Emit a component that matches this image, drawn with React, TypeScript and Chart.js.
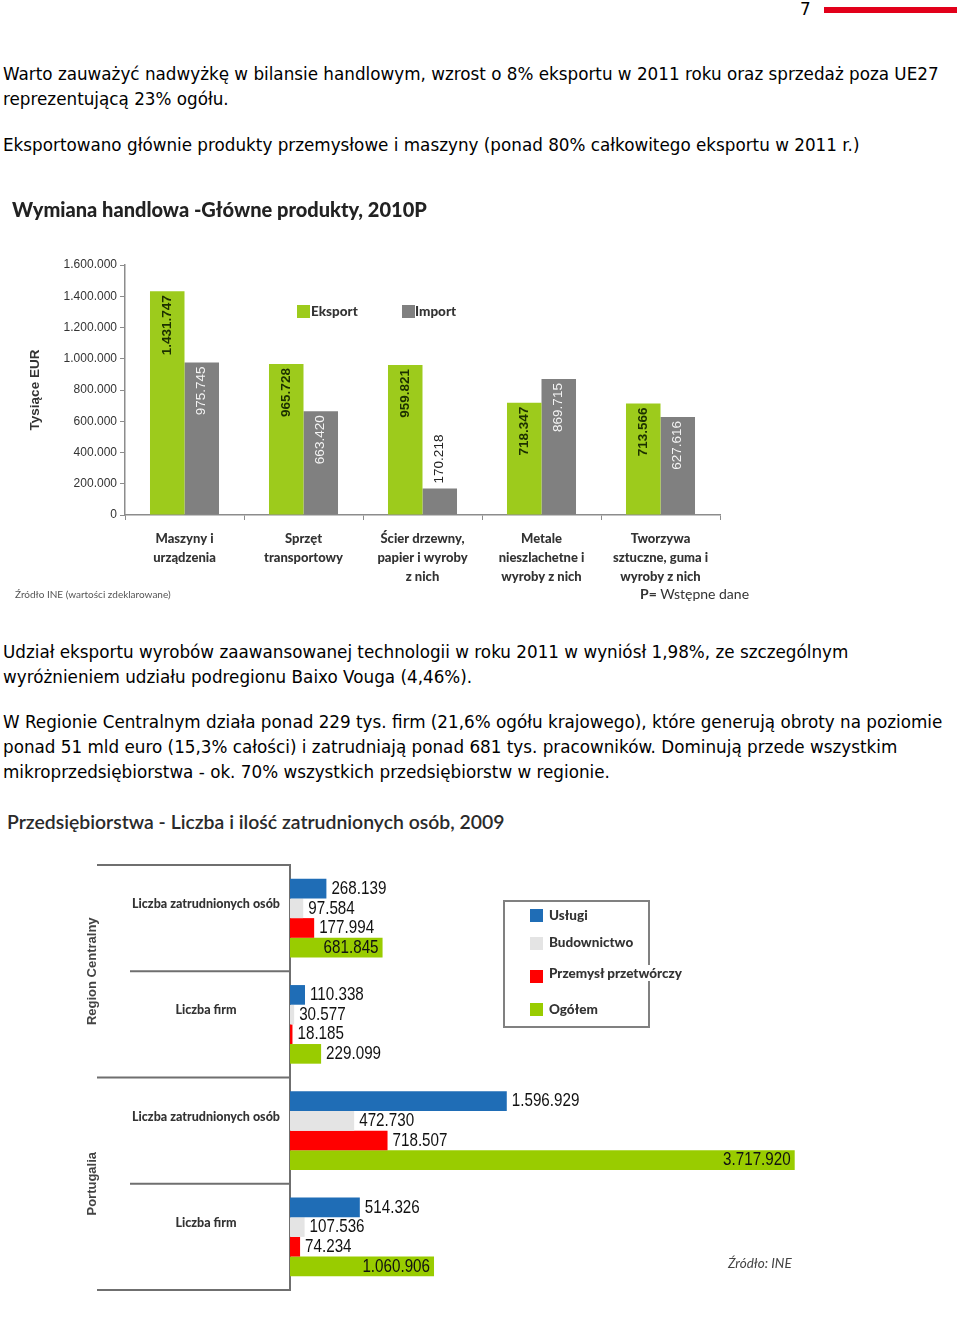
import React, { useEffect, useRef } from 'react';
import { Chart, registerables } from 'chart.js';

Chart.register(...registerables);

// ---------- Chart 1 data ----------
const tradeCategories: string[][] = [
  ['Maszyny i', 'urządzenia'],
  ['Sprzęt', 'transportowy'],
  ['Ścier drzewny,', 'papier i wyroby', 'z nich'],
  ['Metale', 'nieszlachetne i', 'wyroby z nich'],
  ['Tworzywa', 'sztuczne, guma i', 'wyroby z nich'],
];
const exportValues = [1431747, 965728, 959821, 718347, 713566];
const importValues = [975745, 663420, 170218, 869715, 627616];
const tradeSeriesNames = ['Eksport', 'Import'];
const tradeAxisMax = 1600000;
const tradeAxisStep = 200000;

// ---------- Chart 2 data ----------
const firmCategories = [
  'Liczba zatrudnionych osób',
  'Liczba firm',
  'Liczba zatrudnionych osób',
  'Liczba firm',
];
const regionGroups = ['Region Centralny', 'Portugalia'];
const firmSeriesNames = ['Usługi', 'Budownictwo', 'Przemysł przetwórczy', 'Ogółem'];
const uslugiValues = [268139, 110338, 1596929, 514326];
const budownictwoValues = [97584, 30577, 472730, 107536];
const przemyslValues = [177994, 18185, 718507, 74234];
const ogolemValues = [681845, 229099, 3717920, 1060906];
const firmAxisMax = 4000000;

const GREEN = '#9dcb1c';
const GRAY = '#808080';
const BLUE = '#1f6db6';
const LIGHT = '#e4e4e4';
const RED = '#ff0000';
const GREEN2 = '#99cc00';

const fmt = (n: number) => Math.round(n).toString().replace(/\B(?=(\d{3})+(?!\d))/g, '.');

const tradeLabelPlugin = {
  id: 'tradeLabels',
  afterDatasetsDraw(chart: any) {
    const ctx = chart.ctx;
    chart.data.datasets.forEach((ds: any, di: number) => {
      const meta = chart.getDatasetMeta(di);
      meta.data.forEach((el: any, i: number) => {
        const txt = fmt(ds.data[i]);
        ctx.save();
        ctx.font = (di === 0 ? 'bold ' : '') + '13.5px "Liberation Sans", Arial, sans-serif';
        const w = ctx.measureText(txt).width;
        const h = el.base - el.y;
        ctx.translate(el.x, 0);
        ctx.rotate(-Math.PI / 2);
        ctx.textBaseline = 'middle';
        if (h > w + 10) {
          ctx.textAlign = 'right';
          ctx.fillStyle = di === 0 ? '#1c3000' : '#f4f4f4';
          ctx.fillText(txt, -(el.y + 4), 0);
        } else {
          ctx.textAlign = 'left';
          ctx.fillStyle = '#222';
          ctx.fillText(txt, -(el.y - 5), 0);
        }
        ctx.restore();
      });
    });
  },
};

const firmPlugin = {
  id: 'firmDecor',
  afterDatasetsDraw(chart: any) {
    const ctx = chart.ctx;
    const yScale = chart.scales.y;
    const left = chart.chartArea.left;
    // separators
    ctx.save();
    ctx.strokeStyle = '#6f6f6f';
    ctx.lineWidth = 2;
    [-0.5, 0.5, 1.5, 2.5, 3.5].forEach((v) => {
      const y = yScale.getPixelForValue(v);
      const long = v === -0.5 || v === 1.5 || v === 3.5;
      ctx.beginPath();
      ctx.moveTo(long ? 97 : 130, y);
      ctx.lineTo(left, y);
      ctx.stroke();
    });
    // group labels
    ctx.fillStyle = '#444';
    ctx.font = 'bold 13px "Liberation Sans", Arial, sans-serif';
    ctx.textAlign = 'center';
    ctx.textBaseline = 'middle';
    regionGroups.forEach((g, gi) => {
      const y = yScale.getPixelForValue(gi * 2 + 0.5);
      ctx.save();
      ctx.translate(92, y);
      ctx.rotate(-Math.PI / 2);
      ctx.fillText(g, 0, 0);
      ctx.restore();
    });
    ctx.restore();
    // value labels
    chart.data.datasets.forEach((ds: any, di: number) => {
      const meta = chart.getDatasetMeta(di);
      meta.data.forEach((el: any, i: number) => {
        const txt = fmt(ds.data[i]);
        ctx.save();
        ctx.font = '19px "Liberation Sans", Arial, sans-serif';
        const sx = 0.8;
        const w = ctx.measureText(txt).width * sx;
        const len = el.x - el.base;
        ctx.fillStyle = '#111';
        ctx.textBaseline = 'middle';
        let x: number;
        if (di === 3 && len > w + 10) {
          x = el.x - 4 - w;
        } else {
          x = el.x + 5;
        }
        ctx.translate(x, el.y);
        ctx.scale(sx, 1);
        ctx.textAlign = 'left';
        ctx.fillText(txt, 0, 0);
        ctx.restore();
      });
    });
  },
};

function TradeChart() {
  const ref = useRef<HTMLCanvasElement>(null);
  useEffect(() => {
    if (!ref.current) return;
    const chart = new Chart(ref.current, {
      type: 'bar',
      data: {
        labels: tradeCategories as any,
        datasets: [
          { label: tradeSeriesNames[0], data: exportValues, backgroundColor: GREEN, categoryPercentage: 0.58, barPercentage: 1 },
          { label: tradeSeriesNames[1], data: importValues, backgroundColor: GRAY, categoryPercentage: 0.58, barPercentage: 1 },
        ],
      },
      options: {
        animation: false,
        responsive: false,
        layout: { padding: { left: 0, right: 240, top: 75, bottom: 0 } },
        plugins: { legend: { display: false }, tooltip: { enabled: false } },
        scales: {
          x: {
            grid: { display: true, drawOnChartArea: false, drawTicks: true, tickLength: 5, color: '#8c8c8c', offset: true },
            border: { color: '#8c8c8c', width: 1.5 },
            ticks: {
              font: { family: 'Lato', weight: 900, size: 13, lineHeight: 1.46 },
              color: '#333',
              padding: 9,
              maxRotation: 0,
              autoSkip: false,
            },
            afterFit: (s: any) => { s.height = 95; },
          },
          y: {
            min: 0,
            max: tradeAxisMax,
            ticks: {
              stepSize: tradeAxisStep,
              callback: (v: any) => fmt(Number(v)),
              font: { family: 'Liberation Sans', size: 12 },
              color: '#333',
              padding: 3,
            },
            grid: { display: true, drawOnChartArea: false, tickLength: 5, color: '#8c8c8c' },
            border: { color: '#8c8c8c', width: 1.5 },
            title: {
              display: true,
              text: 'Tysiące EUR',
              font: { family: 'Liberation Sans', weight: 'bold', size: 13.5 },
              color: '#333',
              padding: { top: 27, bottom: 0 },
            },
            afterFit: (s: any) => { s.width = 125; },
          },
        },
      } as any,
      plugins: [tradeLabelPlugin],
    });
    return () => chart.destroy();
  }, []);
  return <canvas ref={ref} width={960} height={420} style={{ position: 'absolute', left: 0, top: 190, width: 960, height: 420 }} />;
}

function FirmChart() {
  const ref = useRef<HTMLCanvasElement>(null);
  useEffect(() => {
    if (!ref.current) return;
    const common = { categoryPercentage: 0.74, barPercentage: 1 };
    const chart = new Chart(ref.current, {
      type: 'bar',
      data: {
        labels: firmCategories,
        datasets: [
          { label: firmSeriesNames[0], data: uslugiValues, backgroundColor: BLUE, ...common },
          { label: firmSeriesNames[1], data: budownictwoValues, backgroundColor: LIGHT, ...common },
          { label: firmSeriesNames[2], data: przemyslValues, backgroundColor: RED, ...common },
          { label: firmSeriesNames[3], data: ogolemValues, backgroundColor: GREEN2, ...common },
        ],
      },
      options: {
        indexAxis: 'y',
        animation: false,
        responsive: false,
        layout: { padding: { left: 0, right: 127, top: 25, bottom: 20 } },
        plugins: { legend: { display: false }, tooltip: { enabled: false } },
        scales: {
          x: { display: false, min: 0, max: firmAxisMax },
          y: {
            grid: { display: true, drawOnChartArea: false, drawTicks: false },
            border: { color: '#6f6f6f', width: 2 },
            ticks: {
              font: { family: 'Lato', weight: 900, size: 12.5 },
              color: '#333',
              padding: 10,
              crossAlign: 'center',
              labelOffset: -14,
              autoSkip: false,
            },
            afterFit: (s: any) => { s.width = 290; },
          },
        },
      } as any,
      plugins: [firmPlugin],
    });
    return () => chart.destroy();
  }, []);
  return <canvas ref={ref} width={960} height={470} style={{ position: 'absolute', left: 0, top: 840, width: 960, height: 470 }} />;
}

const para: React.CSSProperties = {
  position: 'absolute',
  left: 3,
  fontFamily: '"DejaVu Sans", sans-serif',
  fontSize: 16.8,
  lineHeight: '25px',
  color: '#000',
  whiteSpace: 'nowrap',
  margin: 0,
};

const sq = (color: string, left: number, top: number, size = 13): React.CSSProperties => ({
  position: 'absolute',
  left,
  top,
  width: size,
  height: size,
  background: color,
});

const legendText = (left: number, top: number): React.CSSProperties => ({
  position: 'absolute',
  left,
  top,
  fontFamily: 'Lato, sans-serif',
  fontWeight: 900,
  fontSize: 13.5,
  lineHeight: '16px',
  color: '#333',
  whiteSpace: 'nowrap',
});

export default function App() {
  return (
    <div style={{ position: 'absolute', left: 0, top: 0, width: 960, height: 1317, background: '#fff', overflow: 'hidden' }}>
      <div style={{ ...para, left: 800, top: -3 }}>7</div>
      <div style={{ position: 'absolute', left: 824, top: 7, width: 133, height: 6, background: '#e2001a' }} />

      <div style={{ ...para, top: 62 }}>
        Warto zauważyć nadwyżkę w bilansie handlowym, wzrost o 8% eksportu w 2011 roku oraz sprzedaż poza UE27
        <br />
        reprezentującą 23% ogółu.
      </div>
      <div style={{ ...para, top: 133 }}>
        Eksportowano głównie produkty przemysłowe i maszyny (ponad 80% całkowitego eksportu w 2011 r.)
      </div>

      <TradeChart />
      <div style={{ position: 'absolute', left: 12, top: 196, fontFamily: 'Lato, sans-serif', fontWeight: 900, fontSize: 20, lineHeight: '26px', color: '#222', whiteSpace: 'nowrap' }}>
        Wymiana handlowa -Główne produkty, 2010P
      </div>
      <div style={sq(GREEN, 297, 305, 13)} />
      <div style={legendText(311, 303)}>{tradeSeriesNames[0]}</div>
      <div style={sq(GRAY, 402, 305, 13)} />
      <div style={legendText(415, 303)}>{tradeSeriesNames[1]}</div>
      <div style={{ position: 'absolute', left: 15, top: 587, fontFamily: 'Lato, sans-serif', fontSize: 10, lineHeight: '14px', color: '#555', whiteSpace: 'nowrap' }}>
        Źródło INE (wartości zdeklarowane)
      </div>
      <div style={{ position: 'absolute', left: 640, top: 585, fontFamily: 'Lato, sans-serif', fontSize: 14, lineHeight: '17px', color: '#333', whiteSpace: 'nowrap' }}>
        <b>P=</b> Wstępne dane
      </div>

      <div style={{ ...para, top: 640 }}>
        Udział eksportu wyrobów zaawansowanej technologii w roku 2011 w wyniósł 1,98%, ze szczególnym
        <br />
        wyróżnieniem udziału podregionu Baixo Vouga (4,46%).
      </div>
      <div style={{ ...para, top: 710 }}>
        W Regionie Centralnym działa ponad 229 tys. firm (21,6% ogółu krajowego), które generują obroty na poziomie
        <br />
        ponad 51 mld euro (15,3% całości) i zatrudniają ponad 681 tys. pracowników. Dominują przede wszystkim
        <br />
        mikroprzedsiębiorstwa - ok. 70% wszystkich przedsiębiorstw w regionie.
      </div>

      <FirmChart />
      <div style={{ position: 'absolute', left: 7, top: 810, fontFamily: 'Lato, sans-serif', fontWeight: 600, fontSize: 19.4, lineHeight: '24px', color: '#2a2a2a', whiteSpace: 'nowrap' }}>
        Przedsiębiorstwa - Liczba i ilość zatrudnionych osób, 2009
      </div>
      <div style={{ position: 'absolute', left: 503, top: 900, width: 143, height: 124, border: '2px solid #808080' }} />
      <div style={sq(BLUE, 530, 909)} />
      <div style={legendText(549, 907)}>{firmSeriesNames[0]}</div>
      <div style={sq(LIGHT, 530, 937)} />
      <div style={legendText(549, 934)}>{firmSeriesNames[1]}</div>
      <div style={sq(RED, 530, 970)} />
      <div style={{ ...legendText(549, 965), background: '#fff', paddingRight: 2 }}>{firmSeriesNames[2]}</div>
      <div style={sq(GREEN2, 530, 1003)} />
      <div style={legendText(549, 1001)}>{firmSeriesNames[3]}</div>
      <div style={{ position: 'absolute', left: 728, top: 1255, fontFamily: 'Lato, sans-serif', fontStyle: 'italic', fontSize: 13.5, lineHeight: '16px', color: '#444', whiteSpace: 'nowrap' }}>
        Źródło: INE
      </div>
    </div>
  );
}
